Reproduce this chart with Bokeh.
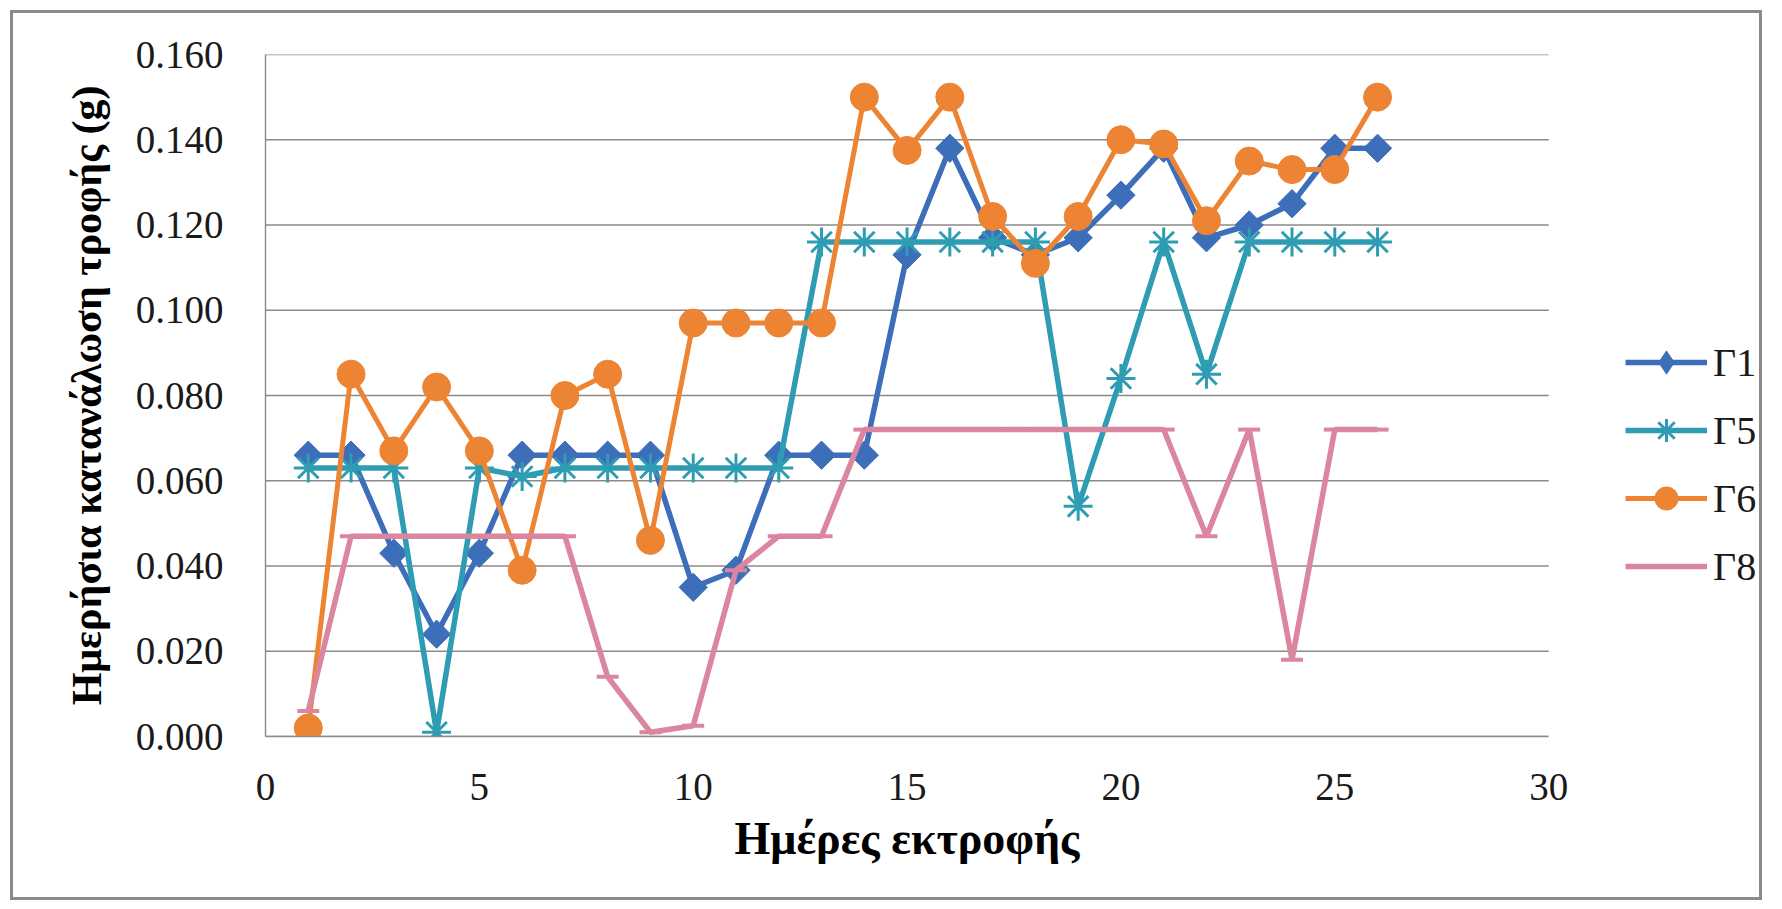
import numpy as np
from bokeh.plotting import figure
from bokeh.models import (FixedTicker, PrintfTickFormatter, Legend, LegendItem,
                          Range1d, Title)
from bokeh.embed import file_html
from bokeh.resources import INLINE

# ---- data ----
days = list(range(1, 27))
g1 = [0.066, 0.066, 0.043, 0.024, 0.043, 0.066, 0.066, 0.066, 0.066, 0.035,
      0.039, 0.066, 0.066, 0.066, 0.113, 0.138, 0.117, 0.113, 0.117, 0.127,
      0.138, 0.117, 0.120, 0.125, 0.138, 0.138]
g5 = [0.063, 0.063, 0.063, 0.001, 0.063, 0.061, 0.063, 0.063, 0.063, 0.063,
      0.063, 0.063, 0.116, 0.116, 0.116, 0.116, 0.116, 0.116, 0.054, 0.084,
      0.116, 0.085, 0.116, 0.116, 0.116, 0.116]
g6 = [0.002, 0.085, 0.067, 0.082, 0.067, 0.039, 0.080, 0.085, 0.046, 0.097,
      0.097, 0.097, 0.097, 0.150, 0.1375, 0.150, 0.122, 0.111, 0.122, 0.140,
      0.139, 0.121, 0.135, 0.133, 0.133, 0.150]
g8 = [0.006, 0.047, 0.047, 0.047, 0.047, 0.047, 0.047, 0.014, 0.001, 0.0025,
      0.039, 0.047, 0.047, 0.072, 0.072, 0.072, 0.072, 0.072, 0.072, 0.072,
      0.072, 0.047, 0.072, 0.018, 0.072, 0.072]
series_names = ["Γ1", "Γ5", "Γ6", "Γ8"]
x_ticks = [0, 5, 10, 15, 20, 25, 30]
y_ticks = [0.0, 0.02, 0.04, 0.06, 0.08, 0.10, 0.12, 0.14, 0.16]
x_title = "Ημέρες εκτροφής"
y_title = "Ημερήσια κατανάλωση τροφής (g)"

BLUE = "#3D6EB9"
TEAL = "#2E9DB3"
ORANGE = "#EC8434"
PINK = "#DB869F"
GRID = "#8A8A8A"
FONT = "Liberation Serif"

x_min, x_max = x_ticks[0], x_ticks[-1]
# the frame continues to the right of the axis so that the legend has room
x_view_end = x_max + 5

W, H = 1752, 890
FRAME_W = W - 252 - 3
p = figure(width=W, height=H, output_backend="svg", toolbar_location=None,
           x_range=Range1d(x_min, x_view_end), y_range=Range1d(y_ticks[0], y_ticks[-1]),
           min_border_left=252, min_border_right=3,
           min_border_top=41, min_border_bottom=167,
           styles={"margin-left": "10px", "margin-top": "10px",
                   "border": "3px solid #8a8a8a"})
p.outline_line_color = None
p.background_fill_color = "white"
p.border_fill_color = "white"

p.xgrid.visible = False
p.ygrid.visible = False
# horizontal gridlines only across the axis extent (0 .. 30)
p.segment(x0=[x_min] * len(y_ticks), y0=y_ticks, x1=[x_max] * len(y_ticks),
          y1=y_ticks, line_color=GRID, line_width=1.4, level="underlay")

for ax in (p.xaxis[0], p.yaxis[0]):
    ax.major_tick_line_color = None
    ax.minor_tick_line_color = None
    ax.axis_line_color = GRID
    ax.axis_line_width = 1.4
    ax.major_label_text_font = FONT
    ax.major_label_text_font_size = "39px"
    ax.major_label_text_color = "#1a1a1a"
    ax.axis_label_text_font = FONT
    ax.axis_label_text_font_style = "bold"
    ax.axis_label_text_color = "#000000"

p.xaxis.ticker = FixedTicker(ticks=x_ticks)
p.xaxis.bounds = (x_min, x_max)
p.xaxis.major_label_standoff = 31

# x-axis title, centred under the 0..30 part of the axis
TITLE_TEXT_W = 345
axis_mid_px = FRAME_W * ((x_min + x_max) / 2 - x_min) / (x_view_end - x_min)
p.add_layout(Title(text=x_title, align="left",
                   offset=axis_mid_px - TITLE_TEXT_W / 2,
                   text_font=FONT, text_font_size="46px",
                   text_font_style="bold", text_color="#000000",
                   standoff=17), "below")

p.yaxis.ticker = FixedTicker(ticks=y_ticks)
p.yaxis.formatter = PrintfTickFormatter(format="%.3f")
p.yaxis.major_label_standoff = 36
p.yaxis.axis_label = y_title
p.yaxis.axis_label_text_font_size = "42px"
p.yaxis.axis_label_standoff = 23

r1l = p.line(days, g1, line_color=BLUE, line_width=5.5)
r1m = p.scatter(days, g1, marker="square", angle=np.pi / 4, size=20,
                fill_color=BLUE, line_color=BLUE)
# same points, zero size: only used to show a diamond in the legend
r1k = p.scatter(days, g1, marker="diamond", size=0, fill_color=BLUE,
                line_color=BLUE)
r5l = p.line(days, g5, line_color=TEAL, line_width=5.5)
r5m = p.scatter(days, g5, marker="asterisk", size=29, line_color=TEAL,
                line_width=3)
r6l = p.line(days, g6, line_color=ORANGE, line_width=5)
r6m = p.scatter(days, g6, marker="circle", size=28, fill_color=ORANGE,
                line_color=ORANGE)
r8l = p.line(days, g8, line_color=PINK, line_width=5.5)
r8m = p.scatter(days, g8, marker="dash", size=22, line_color=PINK,
                line_width=4)

legend = Legend(items=[
    LegendItem(label=series_names[0], renderers=[r1l, r1k]),
    LegendItem(label=series_names[1], renderers=[r5l, r5m]),
    LegendItem(label=series_names[2], renderers=[r6l, r6m]),
    LegendItem(label=series_names[3], renderers=[r8l]),
], location=(1360, 141), glyph_width=82, glyph_height=58, label_height=58,
    spacing=10, padding=0, margin=0, label_standoff=6,
    border_line_color=None, background_fill_alpha=0,
    label_text_font=FONT, label_text_font_size="40px",
    label_text_color="#1a1a1a")
p.add_layout(legend)

open("out.html", "w").write(file_html(p, INLINE))
